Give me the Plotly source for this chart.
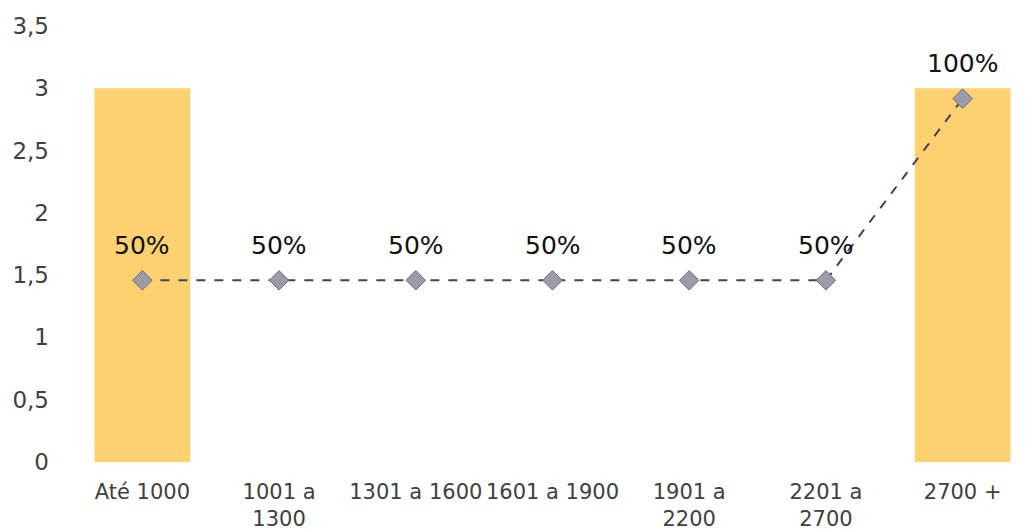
import plotly.graph_objects as go

categories = ["Até 1000", "1001 a<br>1300", "1301 a 1600", "1601 a 1900", "1901 a<br>2200", "2201 a<br>2700", "2700 +"]
bar_values = [3, 0, 0, 0, 0, 0, 3]
pct_values = [0.5, 0.5, 0.5, 0.5, 0.5, 0.5, 1.0]
pct_labels = ["50%", "50%", "50%", "50%", "50%", "50%", "100%"]
y_ticks = [0, 0.5, 1, 1.5, 2, 2.5, 3, 3.5]
y_tick_text = ["0", "0,5", "1", "1,5", "2", "2,5", "3", "3,5"]

FONT = "DejaVu Sans"

fig = go.Figure()
fig.add_trace(go.Bar(
    x=categories, y=bar_values, marker=dict(color="#FDD16F", line=dict(width=0)),
    width=0.7, hoverinfo="skip", showlegend=False,
))
fig.add_trace(go.Scatter(
    x=categories, y=pct_values, yaxis="y2", mode="lines+markers",
    line=dict(color="#433D6B", width=2, dash="dash"),
    marker=dict(symbol="diamond", size=15, color="#9C9CA6", line=dict(color="#6B6A85", width=1)),
    showlegend=False,
))
for c, v, t in zip(categories, pct_values, pct_labels):
    fig.add_annotation(x=c, y=v, yref="y2", text=t, showarrow=False, yshift=35,
                       font=dict(family=FONT, size=25, color="#111111"))

fig.update_layout(
    width=1028, height=532,
    margin=dict(l=66, r=5, t=18, b=78),
    paper_bgcolor="white", plot_bgcolor="white",
    font=dict(family=FONT, size=21, color="#404040"),
    bargap=0.3,
    xaxis=dict(showgrid=False, zeroline=False, showline=False, ticks="",
               ticklabelstandoff=15,
               tickfont=dict(family=FONT, size=21, color="#404040")),
    yaxis=dict(range=[0, 3.5], tickvals=y_ticks, ticktext=y_tick_text, showgrid=False,
               zeroline=False, showline=False, ticks="", ticklabelstandoff=24,
               tickfont=dict(family=FONT, size=23, color="#404040")),
    yaxis2=dict(range=[0, 1.2], overlaying="y", side="right", visible=False),
)

fig.write_html("out.html")
